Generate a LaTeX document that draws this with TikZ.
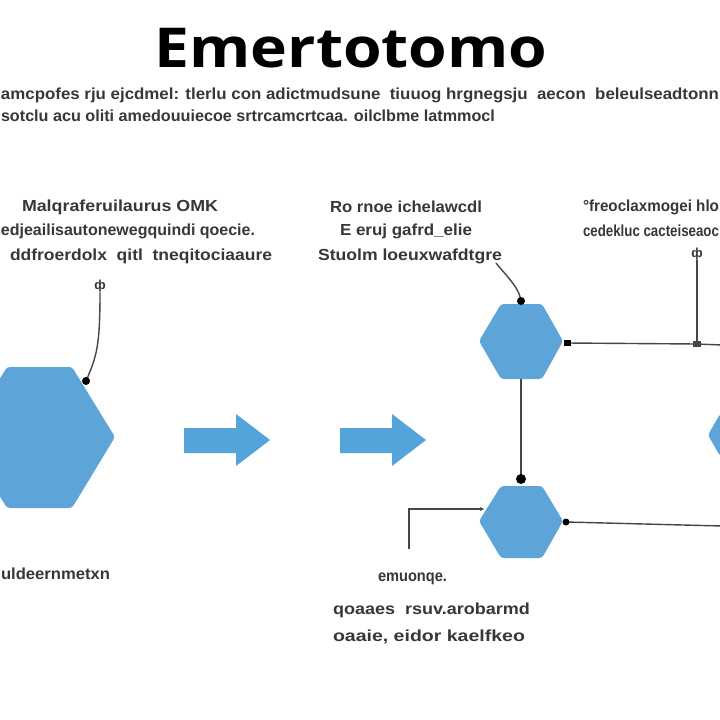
\documentclass[tikz,border=0pt]{standalone}
\usepackage{fontspec}
\setmainfont{Liberation Sans}
\newfontfamily\titlefont{Open Sans}
\usepackage{graphicx}
\usetikzlibrary{calc,arrows.meta}
\newcommand{\fitw}[2]{\resizebox{#1pt}{\height}{#2}}
\definecolor{hexblue}{RGB}{93,164,216}
\definecolor{arrblue}{RGB}{84,163,218}
\definecolor{txtgray}{RGB}{55,55,55}
\definecolor{lngray}{RGB}{70,70,70}
\begin{document}
\begin{tikzpicture}[x=1pt,y=-1pt,
  lbl/.style={anchor=base west,inner sep=0pt,outer sep=0pt,text=txtgray,font=\bfseries\fontsize{16}{18}\selectfont},
  hexshape/.style={fill=hexblue,draw=none,rounded corners=3pt},
  arrshape/.style={fill=arrblue,draw=none},
  conn/.style={draw=lngray,line width=1.4pt},
  blob/.style={circle,fill=black,inner sep=0pt,minimum size=#1},
  tinymark/.style={inner sep=0pt,text=txtgray,font=\bfseries\fontsize{13}{13}\selectfont}]
\clip (0,0) rectangle (720,720);
\fill[white] (0,0) rectangle (720,720);
% title
\node[anchor=base,inner sep=0pt] (title) at (351,67)
  {\titlefont\bfseries\fontsize{55}{60}\selectfont\fitw{393}{Emertotomo}};
% subtitle
\node[lbl] (sub1) at (1,99) {\fitw{718}{amcpofes rju ejcdmel: tlerlu con adictmudsune \ tiuuog hrgnegsju \ aecon \ beleulseadtonn}};
\node[lbl] (sub2) at (1,121) {\fitw{494}{sotclu acu oliti amedouuiecoe srtrcamcrtcaa. oilclbme latmmocl}};
% left label block
\node[lbl] (l1) at (22,211) {\fitw{196}{Malqraferuilaurus OMK}};
\node[lbl] (l2) at (1,235) {\fitw{254}{edjeailisautonewegquindi qoecie.}};
\node[lbl] (l3) at (10,260) {\fitw{262}{ddfroerdolx \ qitl \ tneqitociaaure}};
% middle label block
\node[lbl] (c1) at (330,212) {\fitw{152}{Ro rnoe ichelawcdl}};
\node[lbl] (c2) at (340,235) {\fitw{132}{E eruj gafrd\_elie}};
\node[lbl] (c3) at (318,260) {\fitw{184}{Stuolm loeuxwafdtgre}};
% right label block
\node[lbl] (r1) at (583,211) {\fitw{136}{°freoclaxmogei hlo}};
\node[lbl] (r2) at (583,236) {\fitw{136}{cedekluc cacteiseaoc}};
% bottom labels
\node[lbl] (b0) at (1,579) {\fitw{109}{uldeernmetxn}};
\node[lbl] (b1) at (378,581) {\fitw{69}{emuonqe.}};
\node[lbl] (b2) at (333,614) {\fitw{197}{qoaaes \ rsuv.arobarmd}};
\node[lbl] (b3) at (333,641) {\fitw{192}{oaaie, eidor kaelfkeo}};
% small marks
\node[tinymark] (m1) at (100,286) {ф};
\node[tinymark] (m2) at (697,254) {ф};
% hexagons
\fill[hexshape] (7,367) -- (72,367) -- (115,437) -- (72,508) -- (7,508) -- (-36,437) -- cycle;
\coordinate (h1tr) at (86,381);
\fill[hexshape] (501,304) -- (542,304) -- (563,341) -- (542,379) -- (501,379) -- (479,341) -- cycle;
\coordinate (h2t) at (521,301);
\coordinate (h2r) at (567,343);
\coordinate (h2b) at (521,379);
\fill[hexshape] (501,486) -- (542,486) -- (563,521) -- (542,558) -- (501,558) -- (479,521) -- cycle;
\coordinate (h3t) at (521,479);
\coordinate (h3r) at (566,522);
\coordinate (h3l) at (484,509);
\fill[hexshape] (708,435) -- (720,414) -- (740,414) -- (740,456) -- (720,456) -- cycle;
% arrows
\fill[arrshape] (184,428) -- (236,428) -- (236,414) -- (270,440) -- (236,466) -- (236,453) -- (184,453) -- cycle;
\fill[arrshape] (340,428) -- (392,428) -- (392,414) -- (426,440) -- (392,466) -- (392,453) -- (340,453) -- cycle;
% connectors
\draw[conn] (m1.south) .. controls (100,345) and (97,356) .. (h1tr);
\node[blob=8pt] at (h1tr) {};
\coordinate (c3e) at (496,263);
\draw[conn] (c3e) .. controls (510,280) and (519,288) .. (h2t);
\node[blob=8pt] at (h2t) {};
\coordinate (jr) at (697,344);
\coordinate (er1) at (722,345);
\draw[conn] (h2r) -- (jr) -- (er1);
\draw[conn] (m2.south) -- (jr);
\fill[lngray] ($(jr)+(-4,-3)$) rectangle ($(jr)+(4,3)$);
\fill[black] ($(h2r)+(-3,-3)$) rectangle ($(h2r)+(4,3)$);
\draw[conn] (h2b) -- (h3t);
\node[blob=10pt] at (h3t) {};
\coordinate (er2) at (722,526);
\draw[conn] (h3r) -- (er2);
\node[blob=7pt] at (h3r) {};
\coordinate (bl) at (409,549);
\draw[conn,-{Stealth[length=4pt,width=4pt]}] (bl) |- (h3l);
\end{tikzpicture}
\end{document}
